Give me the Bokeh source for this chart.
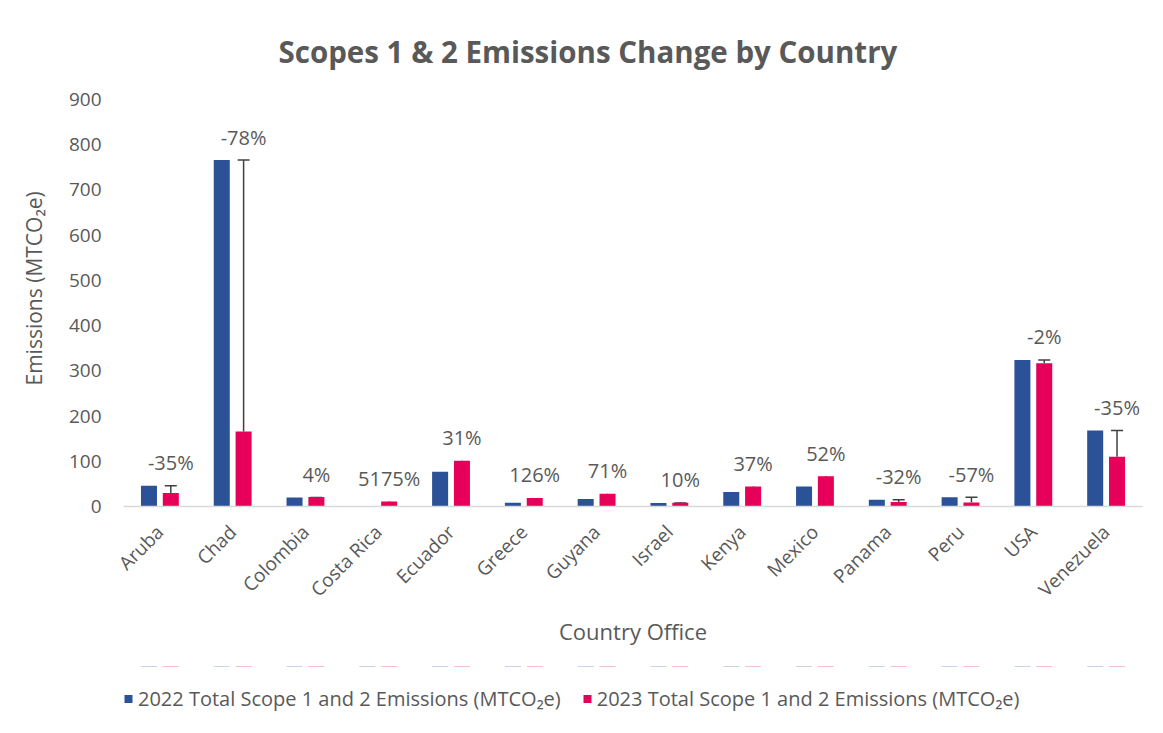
from math import pi
from bokeh.plotting import figure
from bokeh.layouts import column
from bokeh.models import (ColumnDataSource, Whisker, TeeHead, Legend, LegendItem,
                          FactorRange, Range1d, LabelSet, FixedTicker, Title)
from bokeh.transform import dodge
from bokeh.core.properties import value
from bokeh.embed import file_html
from bokeh.resources import INLINE

countries = ["Aruba", "Chad", "Colombia", "Costa Rica", "Ecuador", "Greece", "Guyana",
             "Israel", "Kenya", "Mexico", "Panama", "Peru", "USA", "Venezuela"]
em_2022 = [46, 766, 20, 0.2, 77, 8.4, 16.4, 7.5, 32, 44, 15, 20.6, 324, 168]
em_2023 = [30, 166, 20.8, 11, 101, 19, 28, 8.25, 44, 67, 10.2, 8.9, 317, 110]
pct_labels = ["-35%", "-78%", "4%", "5175%", "31%", "126%", "71%", "10%", "37%",
              "52%", "-32%", "-57%", "-2%", "-35%"]
y_ticks = [0, 100, 200, 300, 400, 500, 600, 700, 800, 900]
series_names = ["2022 Total Scope 1 and 2 Emissions (MTCO\u2082e)",
                "2023 Total Scope 1 and 2 Emissions (MTCO\u2082e)"]

BLUE = "#2B5297"
PINK = "#E6005A"
GRAY = "#595959"
FONT = "Open Sans"

src = ColumnDataSource(dict(
    country=countries, v22=em_2022, v23=em_2023,
    top=[max(a, b) for a, b in zip(em_2022, em_2023)],
    label=pct_labels,
))

p = figure(x_range=FactorRange(*countries), y_range=Range1d(0, 900),
           frame_width=1019, frame_height=407, output_backend="svg", toolbar_location=None,
           min_border_left=123, min_border_right=13, min_border_top=99, min_border_bottom=160)

p.title.text = "Scopes 1 & 2 Emissions Change by Country"
p.title.align = "left"
p.title.offset = 155
p.title.vertical_align = "top"
p.title.text_font = FONT
p.title.text_font_size = "29.5px"
p.title.text_font_style = "bold"
p.title.text_color = GRAY
p.title.standoff = 52

r22 = p.vbar(x=dodge("country", -0.15, range=p.x_range), top="v22", width=0.22,
             source=src, fill_color=BLUE, line_color=None)
r23 = p.vbar(x=dodge("country", 0.15, range=p.x_range), top="v23", width=0.22,
             source=src, fill_color=PINK, line_color=None)

wh = Whisker(base=dodge("country", 0.15, range=p.x_range), upper="v22", lower="v23",
             source=src, line_color="#404040", line_width=1.5,
             upper_head=TeeHead(size=12, line_color="#404040", line_width=1.5),
             lower_head=None)
p.add_layout(wh)

labels = LabelSet(x=dodge("country", 0.15, range=p.x_range), y="top", text="label",
                  source=src, y_offset=23, text_align="center", text_baseline="middle",
                  text_font=value(FONT), text_font_size="20px", text_color=GRAY)
p.add_layout(labels)

p.xgrid.grid_line_color = None
p.ygrid.grid_line_color = None
p.outline_line_color = None

p.yaxis.ticker = FixedTicker(ticks=y_ticks)
p.yaxis.axis_line_color = None
p.yaxis.major_tick_line_color = None
p.yaxis.minor_tick_line_color = None
p.yaxis.major_tick_out = 0
p.yaxis.major_label_text_font = FONT
p.yaxis.major_label_text_font_size = "19px"
p.yaxis.major_label_text_color = GRAY
p.yaxis.major_label_standoff = 22

ytitle = Title(text="Emissions (MTCO\u2082e)", align="left", offset=121,
               vertical_align="middle",
               text_font=FONT, text_font_size="21px", text_font_style="normal",
               text_color=GRAY, standoff=34)
p.add_layout(ytitle, "left")

p.xaxis.axis_line_color = "#D9D9D9"
p.xaxis.axis_line_width = 1.5
p.xaxis.major_tick_line_color = None
p.xaxis.minor_tick_line_color = None
p.xaxis.major_label_orientation = pi / 4
p.xaxis.major_label_text_font = FONT
p.xaxis.major_label_text_font_size = "19px"
p.xaxis.major_label_text_color = GRAY
p.xaxis.major_label_standoff = 16
p.xaxis.axis_label = "Country Office"
p.xaxis.axis_label_text_font = FONT
p.xaxis.axis_label_text_font_size = "22px"
p.xaxis.axis_label_text_font_style = "normal"
p.xaxis.axis_label_text_color = GRAY
p.xaxis.axis_label_standoff = 2

# legend strip below the chart (its bars lie outside its y range, only the legend shows)
lf = figure(width=1155, height=64, output_backend="svg", toolbar_location=None,
            x_axis_location=None, y_axis_location=None,
            x_range=FactorRange(*countries), y_range=Range1d(-2, -1),
            min_border_left=120, min_border_right=0, min_border_top=0, min_border_bottom=0)
lf.xgrid.grid_line_color = None
lf.ygrid.grid_line_color = None
lf.outline_line_color = None
k22 = lf.vbar(x=dodge("country", -0.15, range=lf.x_range), top="v22", width=0.22,
              source=src, fill_color=BLUE, line_color=None)
k23 = lf.vbar(x=dodge("country", 0.15, range=lf.x_range), top="v23", width=0.22,
              source=src, fill_color=PINK, line_color=None)

legend = Legend(items=[
    LegendItem(label=series_names[0], renderers=[k22]),
    LegendItem(label=series_names[1], renderers=[k23]),
], orientation="horizontal", location="left", border_line_color=None,
    background_fill_alpha=0,
    label_text_font=FONT, label_text_font_size="20px", label_text_color=GRAY,
    glyph_width=10, glyph_height=10, label_standoff=5, spacing=21, margin=0, padding=0)
lf.add_layout(legend, "center")

layout = column(p, lf, spacing=0)
open("out.html", "w").write(file_html(layout, INLINE))
